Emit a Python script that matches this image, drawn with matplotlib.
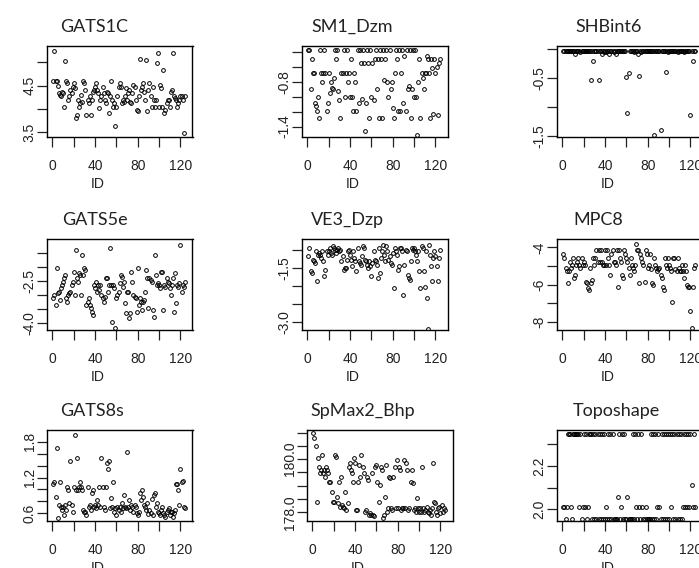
import numpy as np
import matplotlib
matplotlib.use("Agg")
import matplotlib.pyplot as plt

# values, one per ID (1..124)
gats1c = [4.60, 5.24, 4.61, 4.60, 4.50, 4.34, 4.30, 4.27, 4.37, 4.34,
          4.04, 5.03, 4.59, 4.55, 4.20, 4.27, 4.41, 4.34, 4.48, 4.55,
          4.44, 3.80, 3.88, 4.20, 4.04, 4.12, 4.30, 4.16, 4.59, 4.55,
          4.41, 3.88, 4.20, 4.12, 4.27, 3.88, 4.20, 4.37, 4.41, 4.48,
          4.55, 4.41, 4.34, 4.02, 4.20, 4.27, 4.48, 4.34, 4.20, 4.12,
          4.37, 4.34, 3.91, 4.27, 4.59, 4.20, 4.05, 4.12, 3.63, 4.05,
          4.27, 4.48, 4.55, 4.48, 4.12, 4.20, 4.16, 4.27, 4.44, 4.20,
          4.34, 4.41, 4.16, 4.12, 4.34, 4.51, 4.48, 4.20, 3.98, 3.95,
          4.27, 5.08, 4.41, 4.48, 4.55, 4.37, 4.20, 5.05, 3.95, 4.41,
          4.55, 4.27, 4.05, 4.48, 4.20, 4.05, 4.20, 4.98, 5.19, 4.05,
          4.51, 4.44, 4.05, 4.83, 3.91, 3.98, 4.12, 4.20, 4.20, 4.05,
          4.37, 4.41, 5.19, 4.27, 4.23, 4.20, 4.05, 4.12, 4.20, 4.27,
          4.27, 4.20, 3.49, 4.27]

sm1_dzm = [-0.38, -0.38, -0.90, -0.50, -0.68, -0.68, -1.08, -1.13, -1.19, -1.00,
           -1.28, -0.38, -0.68, -0.80, -0.68, -0.38, -0.68, -1.19, -1.08, -0.68,
           -0.95, -0.80, -0.88, -0.90, -0.75, -0.38, -0.50, -0.38, -0.92, -1.05,
           -1.28, -0.68, -0.68, -0.38, -1.00, -0.68, -0.38, -0.80, -0.68, -1.00,
           -0.50, -1.00, -1.19, -0.68, -0.80, -1.19, -0.38, -1.08, -0.38, -0.55,
           -1.03, -0.38, -0.55, -1.46, -1.08, -0.38, -0.55, -1.28, -0.38, -1.00,
           -0.55, -1.05, -0.50, -0.38, -0.90, -0.50, -1.28, -0.38, -0.50, -1.28,
           -0.38, -0.78, -0.50, -0.38, -0.80, -1.00, -0.38, -0.90, -0.80, -1.15,
           -1.28, -0.68, -0.38, -0.50, -1.19, -0.38, -1.19, -0.68, -0.38, -1.08,
           -0.45, -1.19, -0.38, -0.90, -0.85, -0.38, -1.28, -0.90, -0.38, -1.00,
           -0.38, -1.00, -1.51, -0.80, -0.50, -1.28, -0.68, -0.75, -0.90, -0.68,
           -0.68, -0.45, -0.50, -0.68, -1.28, -0.50, -0.62, -1.23, -0.50, -0.68,
           -0.60, -1.25, -0.55, -0.50]

shbint6 = [-0.02, -0.02, -0.03, -0.02, -0.02, -0.02, -0.03, -0.02, -0.02, -0.02,
           -0.02, -0.07, -0.02, -0.02, -0.03, -0.02, -0.05, -0.02, -0.02, -0.02,
           -0.02, -0.02, -0.03, -0.02, -0.02, -0.02, -0.53, -0.02, -0.20, -0.02,
           -0.02, -0.02, -0.03, -0.53, -0.02, -0.02, -0.07, -0.02, -0.05, -0.02,
           -0.05, -0.02, -0.02, -0.07, -0.02, -0.02, -0.02, -0.05, -0.02, -0.07,
           -0.02, -0.02, -0.02, -0.02, -0.02, -0.02, -0.02, -0.03, -0.02, -0.48,
           -1.09, -0.40, -0.02, -0.02, -0.02, -0.03, -0.05, -0.02, -0.02, -0.02,
           -0.07, -0.46, -0.02, -0.05, -0.02, -0.02, -0.02, -0.02, -0.02, -0.02,
           -0.02, -0.02, -0.02, -0.02, -0.02, -1.48, -0.02, -0.02, -0.02, -0.02,
           -0.02, -1.39, -0.02, -0.02, -0.02, -0.02, -0.38, -0.02, -0.05, -0.02,
           -0.02, -0.02, -0.02, -0.02, -0.02, -0.02, -0.02, -0.05, -0.02, -0.02,
           -0.02, -0.02, -0.02, -0.05, -0.02, -0.02, -0.02, -0.02, -0.02, -1.13,
           -0.02, -0.20, -0.02, -0.02]

gats5e = [-3.12, -3.00, -3.36, -2.04, -2.94, -2.88, -3.18, -2.76, -2.64, -2.52,
          -2.40, -2.28, -3.12, -3.24, -3.00, -2.94, -2.88, -2.64, -2.52, -2.16,
          -3.00, -1.38, -2.40, -2.52, -2.22, -2.28, -3.00, -1.56, -2.28, -2.04,
          -2.10, -3.36, -3.24, -3.12, -3.36, -3.48, -3.60, -3.72, -2.64, -2.76,
          -2.52, -2.88, -2.64, -2.82, -2.64, -3.00, -3.12, -3.24, -3.06, -2.40,
          -2.40, -2.88, -2.64, -1.32, -2.64, -3.96, -2.64, -2.76, -4.20, -3.12,
          -3.00, -2.88, -2.58, -2.28, -2.34, -2.70, -2.52, -3.30, -3.66, -2.88,
          -2.88, -3.84, -3.66, -2.16, -2.52, -3.00, -3.06, -3.12, -3.60, -2.04,
          -3.36, -3.12, -3.24, -3.54, -3.24, -3.18, -2.88, -2.10, -2.40, -3.48,
          -2.40, -2.46, -2.52, -3.54, -3.78, -1.56, -2.28, -2.64, -2.58, -2.64,
          -2.76, -2.16, -2.16, -3.54, -2.64, -2.70, -2.40, -2.52, -2.58, -2.76,
          -3.00, -2.64, -2.40, -3.60, -2.22, -3.30, -2.64, -2.70, -2.58, -1.20,
          -2.88, -2.64, -2.70, -2.52]

ve3_dzp = [-1.17, -0.94, -1.59, -1.64, -1.27, -1.31, -1.36, -1.03, -1.87, -1.13,
           -1.08, -1.13, -1.22, -1.03, -1.31, -1.73, -1.55, -1.03, -1.13, -1.03,
           -0.94, -1.08, -1.13, -0.89, -0.94, -0.98, -1.08, -0.98, -0.94, -1.03,
           -0.98, -1.31, -1.17, -1.55, -1.50, -1.50, -1.27, -1.03, -0.98, -1.13,
           -1.27, -1.45, -1.03, -1.22, -1.31, -1.59, -0.94, -1.31, -1.36, -1.41,
           -1.17, -0.89, -0.94, -1.27, -1.31, -1.41, -1.50, -1.31, -1.45, -1.73,
           -1.36, -1.03, -1.27, -1.31, -1.41, -1.78, -0.94, -1.64, -1.22, -1.03,
           -0.84, -1.13, -1.31, -0.89, -1.03, -1.27, -1.17, -1.36, -1.41, -1.08,
           -2.06, -0.94, -1.03, -1.13, -1.55, -1.45, -0.94, -0.94, -1.03, -2.25,
           -1.41, -0.98, -1.03, -1.69, -1.78, -1.83, -1.31, -0.94, -0.98, -0.94,
           -1.03, -1.13, -1.31, -1.03, -1.59, -2.06, -0.89, -0.94, -1.59, -2.02,
           -1.03, -2.34, -3.19, -0.84, -1.13, -1.45, -1.87, -1.22, -1.03, -1.17,
           -1.45, -1.87, -1.22, -0.98]

mpc8 = [-4.38, -4.59, -5.09, -5.27, -5.94, -5.27, -4.81, -5.09, -4.95, -4.59,
        -5.67, -5.49, -4.95, -4.81, -4.59, -4.95, -5.09, -4.59, -4.95, -4.81,
        -4.95, -5.85, -5.94, -6.21, -6.30, -5.09, -5.94, -5.76, -4.59, -4.95,
        -4.59, -4.14, -4.81, -4.14, -4.81, -4.14, -4.81, -4.95, -4.95, -4.14,
        -4.95, -4.14, -4.59, -4.95, -5.49, -4.38, -4.14, -4.81, -4.81, -4.95,
        -4.14, -6.12, -4.14, -4.59, -4.81, -5.49, -5.67, -4.14, -4.38, -4.59,
        -4.81, -5.09, -5.49, -4.59, -4.95, -5.09, -5.27, -4.95, -3.84, -4.14,
        -4.14, -5.94, -4.38, -4.59, -4.81, -4.95, -5.85, -4.14, -4.38, -5.09,
        -4.95, -4.38, -5.18, -5.94, -6.03, -4.59, -4.95, -5.09, -5.27, -5.18,
        -5.09, -5.49, -5.67, -6.12, -6.30, -4.59, -4.95, -5.09, -4.59, -4.95,
        -5.09, -5.27, -6.92, -4.59, -4.59, -5.18, -5.27, -4.59, -5.09, -5.27,
        -5.27, -4.95, -5.27, -5.67, -4.95, -5.27, -6.03, -6.12, -6.12, -7.43,
        -8.32, -6.12, -5.09, -4.95]

gats8s = [1.10, 1.13, 0.88, 1.70, 0.52, 0.74, 1.13, 0.71, 0.66, 0.71,
          0.57, 0.74, 0.66, 1.05, 0.99, 0.77, 1.48, 0.74, 0.62, 1.05,
          1.92, 0.99, 1.53, 0.99, 1.05, 1.13, 1.05, 0.99, 0.66, 0.62,
          0.62, 0.57, 1.05, 0.71, 0.74, 0.66, 0.94, 0.99, 0.71, 0.74,
          0.69, 0.82, 0.74, 1.05, 0.71, 1.53, 1.05, 0.71, 0.66, 1.05,
          1.44, 1.35, 1.48, 0.69, 0.85, 0.71, 1.13, 0.62, 0.69, 0.57,
          0.71, 0.66, 0.71, 0.62, 0.77, 0.69, 0.91, 0.71, 0.69, 1.63,
          0.71, 0.82, 0.66, 0.74, 0.71, 0.62, 0.74, 0.71, 0.60, 0.57,
          0.62, 0.94, 0.82, 0.99, 0.88, 0.74, 0.71, 0.66, 0.77, 0.59,
          0.66, 0.60, 0.84, 0.57, 0.91, 0.94, 0.71, 0.77, 0.62, 0.60,
          0.57, 0.66, 0.71, 0.60, 0.57, 0.54, 0.62, 0.66, 0.69, 0.57,
          0.62, 0.62, 0.54, 0.60, 0.66, 1.10, 1.10, 0.99, 0.74, 1.35,
          1.13, 1.15, 0.71, 0.69]

spmax2_bhp = [180.98, 180.79, 180.48, 178.40, 180.04, 179.72, 179.47, 179.60, 180.16, 179.47,
              179.60, 179.34, 179.72, 179.60, 179.47, 179.15, 179.15, 178.78, 178.40, 178.40,
              180.16, 180.10, 178.59, 178.34, 179.15, 178.21, 179.34, 178.28, 178.21, 178.15,
              178.78, 178.09, 178.34, 179.72, 179.85, 179.60, 179.47, 179.15, 180.04, 179.85,
              178.09, 178.09, 179.15, 179.78, 179.34, 180.16, 179.72, 179.47, 178.02, 178.09,
              179.34, 179.21, 177.90, 177.96, 177.90, 179.47, 177.90, 177.84, 179.72, 179.78,
              179.15, 178.40, 179.02, 179.72, 179.60, 177.77, 177.90, 178.59, 179.78, 178.02,
              178.15, 179.34, 179.28, 178.15, 178.09, 179.34, 179.72, 178.15, 179.97, 178.15,
              179.72, 179.60, 178.09, 178.15, 178.15, 179.97, 178.15, 179.85, 179.60, 178.09,
              178.15, 179.15, 179.60, 179.10, 178.09, 178.15, 178.02, 178.52, 178.15, 178.02,
              178.15, 178.02, 179.72, 178.15, 178.02, 178.09, 178.21, 178.02, 177.96, 178.09,
              177.90, 178.15, 179.85, 178.40, 178.34, 178.02, 177.90, 178.15, 178.21, 177.96,
              178.28, 178.02, 178.15, 178.09]

toposhape = [2.012, 2.012, 1.955, 2.012, 2.346, 2.346, 2.346, 2.012, 1.955, 2.346,
             2.346, 2.346, 2.346, 2.346, 2.346, 2.012, 2.346, 1.955, 2.012, 2.346,
             2.012, 2.346, 1.955, 2.012, 2.346, 2.346, 2.346, 1.955, 2.346, 1.955,
             2.346, 1.955, 2.346, 1.955, 2.346, 1.955, 2.346, 1.955, 2.346, 1.955,
             2.012, 1.955, 2.346, 1.955, 2.346, 1.955, 2.346, 1.955, 1.955, 1.955,
             1.955, 2.058, 2.346, 1.955, 2.012, 2.346, 1.955, 2.346, 1.955, 1.955,
             2.058, 1.955, 1.955, 1.955, 1.955, 2.346, 1.955, 2.346, 2.012, 1.955,
             2.346, 2.012, 1.955, 2.346, 2.012, 1.955, 1.955, 2.012, 1.955, 1.955,
             1.955, 1.955, 2.346, 1.955, 2.346, 1.955, 2.346, 1.955, 2.012, 2.346,
             2.012, 1.955, 2.346, 1.955, 2.346, 1.955, 2.346, 1.955, 2.346, 1.955,
             2.346, 2.012, 2.346, 1.955, 2.346, 1.955, 2.346, 1.955, 2.346, 1.955,
             2.346, 1.955, 2.012, 2.346, 2.012, 2.346, 2.012, 2.346, 2.012, 2.346,
             2.112, 2.012, 2.346, 2.012]

ids = np.arange(1, len(gats1c) + 1)

# name, values, yticks, ytick labels, ylim
panels = [
    ("GATS1C", gats1c, [3.5, 4.0, 4.5, 5.0], ["3.5", "", "4.5", ""], (3.40, 5.35)),
    ("SM1_Dzm", sm1_dzm, [-1.4, -1.2, -1.0, -0.8, -0.6, -0.4],
     ["-1.4", "", "", "-0.8", "", ""], (-1.54, -0.32)),
    ("SHBint6", shbint6, [-1.5, -1.0, -0.5, 0.0], ["-1.5", "", "-0.5", ""], (-1.51, 0.06)),
    ("GATS5e", gats5e, [-4.0, -3.5, -3.0, -2.5, -2.0, -1.5],
     ["-4.0", "", "", "-2.5", "", ""], (-4.26, -0.99)),
    ("VE3_Dzp", ve3_dzp, [-3.0, -2.5, -2.0, -1.5, -1.0],
     ["-3.0", "", "", "-1.5", ""], (-3.23, -0.68)),
    ("MPC8", mpc8, [-8, -7, -6, -5, -4], ["-8", "", "-6", "", "-4"], (-8.45, -3.55)),
    ("GATS8s", gats8s, [0.6, 0.8, 1.0, 1.2, 1.4, 1.6, 1.8],
     ["0.6", "", "", "1.2", "", "", "1.8"], (0.47, 2.0)),
    ("SpMax2_Bhp", spmax2_bhp, [178.0, 178.5, 179.0, 179.5, 180.0, 180.5, 181.0],
     ["178.0", "", "", "", "180.0", "", ""], (177.67, 181.1)),
    ("Toposhape", toposhape, [2.0, 2.1, 2.2, 2.3], ["2.0", "", "2.2", ""], (1.946, 2.366)),
]

# plot boxes in pixels: left, top ; title left x
boxes = [(47, 46), (302, 46), (557, 46),
         (47, 239), (302, 239), (557, 239),
         (47, 430), (307, 430), (557, 430)]
title_x = [60, 311, 575, 62, 311, 573, 60, 310, 573]
W, H = 699, 568
bw, bh = 145.5, 91

fig = plt.figure(figsize=(W / 100, H / 100), dpi=100)

for i, (name, vals, yt, ytl, ylim) in enumerate(panels):
    left, top = boxes[i]
    ax = fig.add_axes([left / W, 1 - (top + bh) / H, bw / W, bh / H])
    ax.plot(ids, vals, "o", ms=2.7, mfc="none", mec="black", mew=0.7)
    ax.set_xlim(-5, 131.3)
    ax.set_ylim(*ylim)
    ax.set_xticks([0, 20, 40, 60, 80, 100, 120])
    ax.set_xticklabels(["0", "", "40", "", "80", "", "120"])
    ax.set_yticks(yt)
    ax.set_yticklabels(ytl, rotation=90, va="center")
    ax.tick_params(direction="out", length=7, width=0.9, colors="#222222",
                   labelsize=10)
    ax.tick_params(axis="x", pad=9)
    ax.tick_params(axis="y", pad=0.5)
    for lab in ax.get_xticklabels() + ax.get_yticklabels():
        lab.set_family("Liberation Sans")
    for s in ax.spines.values():
        s.set_linewidth(1.0)
    ax.set_xlabel("ID", family="Liberation Sans", fontsize=10, color="#222222")
    ax.xaxis.set_label_coords(0.345, -0.44)
    fig.text(title_x[i] / W, 1 - (top - 19) / H, name, ha="left", va="center",
             fontsize=13, family="Lato", color="#222222")

fig.savefig("out.png", dpi=100)
